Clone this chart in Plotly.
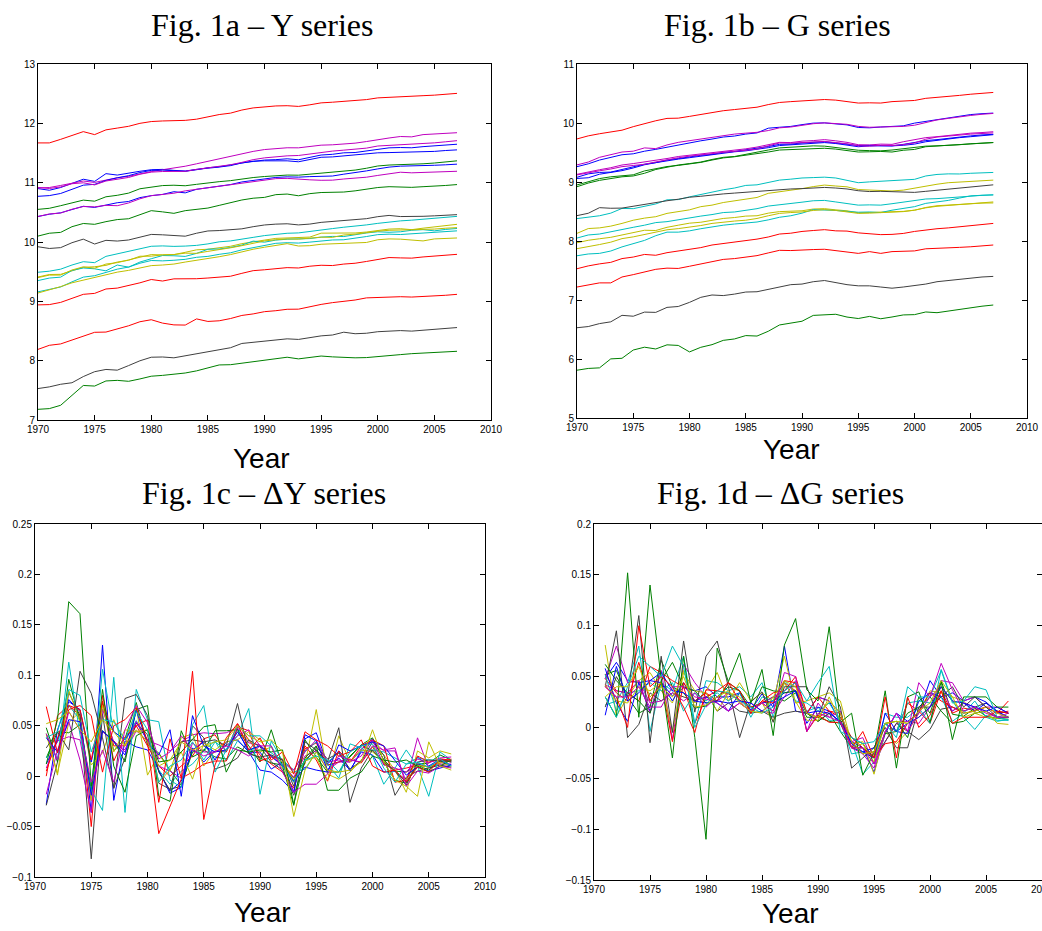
import numpy as np
import plotly.graph_objects as go

years = list(range(1970, 2008))

# MATLAB default colour order: b g r c m y k
matlab_colors = ['#0000FF', '#008000', '#FF0000', '#00BFBF', '#BF00BF', '#BFBF00', '#404040']

# ---- Fig 1a: Y series (log levels), 1970-2007 ----
y_b1 = [10.90, 10.872, 10.918, 10.994, 11.058, 11.022, 11.152, 11.128, 11.163, 11.192,
        11.218, 11.224, 11.207, 11.196, 11.224, 11.238, 11.263, 11.287, 11.334, 11.357,
        11.381, 11.388, 11.402, 11.386, 11.423, 11.466, 11.478, 11.503, 11.508, 11.534,
        11.571, 11.587, 11.592, 11.588, 11.607, 11.617, 11.634, 11.648]
y_g1 = [10.55, 10.568, 10.612, 10.655, 10.706, 10.688, 10.762, 10.787, 10.824, 10.897,
        10.928, 10.951, 10.957, 10.948, 10.972, 10.998, 11.017, 11.034, 11.063, 11.086,
        11.104, 11.117, 11.128, 11.126, 11.142, 11.168, 11.179, 11.193, 11.212, 11.243,
        11.281, 11.297, 11.302, 11.306, 11.318, 11.331, 11.352, 11.368]
y_r1 = [11.67, 11.67, 11.73, 11.80, 11.86, 11.81, 11.89, 11.92, 11.95, 12.00,
        12.03, 12.04, 12.04, 12.05, 12.07, 12.107, 12.148, 12.172, 12.224, 12.260,
        12.281, 12.293, 12.297, 12.285, 12.312, 12.345, 12.356, 12.370, 12.387, 12.400,
        12.429, 12.441, 12.447, 12.455, 12.466, 12.475, 12.488, 12.505]
y_c1 = [9.49, 9.508, 9.542, 9.612, 9.668, 9.652, 9.758, 9.802, 9.838, 9.893,
        9.928, 9.934, 9.926, 9.931, 9.943, 9.968, 10.003, 10.018, 10.053, 10.078,
        10.108, 10.131, 10.147, 10.153, 10.178, 10.212, 10.226, 10.249, 10.263, 10.288,
        10.314, 10.338, 10.356, 10.368, 10.386, 10.402, 10.418, 10.432]
y_m1 = [10.91, 10.918, 10.953, 10.992, 11.028, 11.004, 11.048, 11.083, 11.107, 11.152,
        11.187, 11.218, 11.243, 11.277, 11.318, 11.361, 11.403, 11.446, 11.494, 11.527,
        11.558, 11.577, 11.588, 11.587, 11.607, 11.632, 11.638, 11.652, 11.666, 11.693,
        11.728, 11.753, 11.778, 11.772, 11.810, 11.818, 11.830, 11.842]
y_y1 = [9.41, 9.452, 9.455, 9.508, 9.572, 9.583, 9.606, 9.662, 9.692, 9.760,
        9.761, 9.783, 9.788, 9.826, 9.868, 9.878, 9.903, 9.928, 9.972, 10.008,
        10.032, 10.061, 10.068, 10.071, 10.083, 10.149, 10.151, 10.148, 10.152, 10.168,
        10.197, 10.218, 10.224, 10.208, 10.233, 10.251, 10.276, 10.298]
y_k1 = [9.92, 9.891, 9.905, 9.988, 10.048, 9.966, 10.028, 10.016, 10.034, 10.087,
        10.128, 10.121, 10.108, 10.098, 10.148, 10.186, 10.193, 10.204, 10.222, 10.258,
        10.287, 10.301, 10.307, 10.288, 10.302, 10.331, 10.348, 10.371, 10.378, 10.393,
        10.427, 10.448, 10.429, 10.428, 10.433, 10.441, 10.452, 10.461]
y_b2 = [10.77, 10.782, 10.818, 10.892, 10.958, 10.972, 11.038, 11.082, 11.118, 11.171,
        11.207, 11.212, 11.197, 11.192, 11.218, 11.252, 11.268, 11.302, 11.338, 11.362,
        11.368, 11.372, 11.368, 11.352, 11.393, 11.428, 11.434, 11.452, 11.458, 11.482,
        11.503, 11.507, 11.512, 11.506, 11.518, 11.527, 11.542, 11.553]
y_g2 = [10.10, 10.148, 10.162, 10.258, 10.312, 10.298, 10.343, 10.378, 10.392, 10.458,
        10.528, 10.508, 10.483, 10.528, 10.547, 10.572, 10.617, 10.662, 10.708, 10.738,
        10.752, 10.798, 10.808, 10.779, 10.815, 10.834, 10.838, 10.842, 10.862, 10.893,
        10.918, 10.932, 10.928, 10.921, 10.932, 10.938, 10.953, 10.968]
y_r2 = [8.94, 8.945, 8.982, 9.052, 9.118, 9.134, 9.208, 9.223, 9.262, 9.312,
        9.368, 9.342, 9.379, 9.377, 9.381, 9.393, 9.408, 9.423, 9.472, 9.517,
        9.532, 9.551, 9.568, 9.562, 9.592, 9.608, 9.603, 9.628, 9.642, 9.672,
        9.708, 9.738, 9.732, 9.728, 9.748, 9.762, 9.778, 9.792]
y_c2 = [9.35, 9.392, 9.408, 9.521, 9.562, 9.548, 9.514, 9.612, 9.576, 9.662,
        9.718, 9.772, 9.768, 9.757, 9.808, 9.878, 9.882, 9.908, 9.948, 10.015,
        9.997, 10.032, 10.047, 10.051, 10.058, 10.082, 10.094, 10.092, 10.124, 10.152,
        10.172, 10.164, 10.172, 10.198, 10.208, 10.188, 10.212, 10.228]
y_m2 = [10.92, 10.902, 10.928, 10.982, 10.998, 10.962, 11.028, 11.062, 11.088, 11.142,
        11.178, 11.188, 11.193, 11.191, 11.224, 11.248, 11.272, 11.302, 11.342, 11.388,
        11.418, 11.438, 11.452, 11.458, 11.482, 11.518, 11.532, 11.548, 11.562, 11.582,
        11.618, 11.629, 11.637, 11.641, 11.658, 11.671, 11.689, 11.708]
y_y2 = [9.40, 9.442, 9.443, 9.528, 9.582, 9.558, 9.628, 9.652, 9.698, 9.742,
        9.788, 9.782, 9.788, 9.812, 9.809, 9.842, 9.868, 9.902, 9.938, 9.982,
        10.018, 10.038, 10.052, 10.048, 10.063, 10.082, 10.078, 10.118, 10.132, 10.158,
        10.182, 10.197, 10.202, 10.198, 10.209, 10.218, 10.232, 10.242]
y_k2 = [7.53, 7.558, 7.602, 7.628, 7.732, 7.814, 7.852, 7.84, 7.917, 7.998,
        8.058, 8.062, 8.048, 8.082, 8.118, 8.152, 8.188, 8.218, 8.29, 8.312,
        8.331, 8.352, 8.368, 8.358, 8.392, 8.418, 8.432, 8.48, 8.454, 8.462,
        8.488, 8.502, 8.507, 8.498, 8.512, 8.528, 8.543, 8.558]
y_b3 = [10.43, 10.468, 10.492, 10.548, 10.602, 10.583, 10.628, 10.662, 10.683, 10.748,
        10.781, 10.802, 10.848, 10.828, 10.888, 10.918, 10.942, 10.968, 11.012, 11.038,
        11.068, 11.088, 11.098, 11.093, 11.102, 11.108, 11.112, 11.143, 11.168, 11.198,
        11.232, 11.262, 11.278, 11.279, 11.288, 11.293, 11.301, 11.312]
y_g3 = [7.18, 7.192, 7.248, 7.421, 7.582, 7.572, 7.658, 7.668, 7.652, 7.692,
        7.738, 7.752, 7.768, 7.792, 7.828, 7.877, 7.928, 7.932, 7.958, 7.982,
        8.008, 8.032, 8.058, 8.03, 8.048, 8.078, 8.064, 8.05, 8.048, 8.052,
        8.072, 8.088, 8.102, 8.118, 8.128, 8.132, 8.142, 8.158]
y_r3 = [8.19, 8.259, 8.282, 8.348, 8.418, 8.478, 8.482, 8.532, 8.588, 8.656,
        8.69, 8.633, 8.603, 8.60, 8.704, 8.661, 8.672, 8.71, 8.762, 8.788,
        8.826, 8.842, 8.866, 8.868, 8.912, 8.948, 8.978, 8.998, 9.022, 9.058,
        9.068, 9.072, 9.078, 9.072, 9.081, 9.085, 9.102, 9.118]
y_c3 = [9.16, 9.198, 9.242, 9.328, 9.408, 9.432, 9.488, 9.542, 9.578, 9.642,
        9.688, 9.682, 9.692, 9.708, 9.742, 9.758, 9.792, 9.818, 9.868, 9.908,
        9.948, 9.978, 9.988, 9.982, 9.998, 10.018, 10.034, 10.038, 10.062, 10.092,
        10.124, 10.132, 10.126, 10.138, 10.152, 10.161, 10.178, 10.188]
y_m3 = [10.43, 10.472, 10.488, 10.552, 10.598, 10.592, 10.618, 10.612, 10.658, 10.728,
        10.781, 10.798, 10.822, 10.862, 10.888, 10.908, 10.932, 10.962, 10.988, 11.008,
        11.038, 11.068, 11.072, 11.056, 11.048, 11.04, 11.042, 11.062, 11.078, 11.092,
        11.122, 11.148, 11.176, 11.166, 11.171, 11.174, 11.184, 11.192]
y_y3 = [9.14, 9.192, 9.248, 9.312, 9.358, 9.392, 9.448, 9.492, 9.522, 9.568,
        9.602, 9.612, 9.628, 9.662, 9.688, 9.718, 9.752, 9.788, 9.838, 9.878,
        9.912, 9.948, 9.972, 9.932, 9.938, 9.962, 9.968, 9.972, 9.978, 9.992,
        10.038, 10.052, 10.048, 10.038, 10.018, 10.052, 10.062, 10.068]

# ---- Fig 1b: G series, 1970-2007 ----
g_b1 = [9.26, 9.308, 9.372, 9.418, 9.462, 9.478, 9.522, 9.553, 9.592, 9.628,
        9.668, 9.698, 9.728, 9.762, 9.779, 9.812, 9.832, 9.912, 9.928, 9.942,
        9.972, 9.998, 10.002, 9.988, 9.968, 9.924, 9.918, 9.932, 9.938, 9.952,
        9.998, 10.028, 10.062, 10.088, 10.118, 10.143, 10.158, 10.168]
g_g1 = [8.95, 9.002, 9.058, 9.088, 9.102, 9.122, 9.188, 9.228, 9.262, 9.281,
        9.302, 9.332, 9.372, 9.408, 9.428, 9.452, 9.482, 9.508, 9.542, 9.552,
        9.562, 9.568, 9.572, 9.558, 9.532, 9.508, 9.512, 9.518, 9.508, 9.538,
        9.552, 9.598, 9.611, 9.622, 9.641, 9.652, 9.661, 9.669]
g_r1 = [9.73, 9.782, 9.818, 9.852, 9.878, 9.938, 9.992, 10.038, 10.078, 10.082,
        10.112, 10.148, 10.181, 10.208, 10.228, 10.252, 10.268, 10.312, 10.348, 10.362,
        10.372, 10.388, 10.398, 10.388, 10.368, 10.338, 10.342, 10.338, 10.362, 10.378,
        10.382, 10.418, 10.432, 10.451, 10.468, 10.488, 10.502, 10.518]
g_c1 = [8.38, 8.402, 8.428, 8.472, 8.552, 8.548, 8.592, 8.628, 8.698, 8.702,
        8.748, 8.792, 8.828, 8.868, 8.898, 8.942, 8.952, 8.998, 9.032, 9.048,
        9.068, 9.075, 9.082, 9.068, 9.022, 8.988, 9.002, 9.012, 9.022, 9.041,
        9.045, 9.102, 9.128, 9.138, 9.136, 9.148, 9.155, 9.162]
g_m1 = [9.29, 9.338, 9.418, 9.462, 9.508, 9.522, 9.578, 9.566, 9.628, 9.672,
        9.702, 9.728, 9.762, 9.788, 9.812, 9.828, 9.842, 9.872, 9.918, 9.932,
        9.962, 9.988, 10.002, 9.988, 9.978, 9.942, 9.928, 9.932, 9.938, 9.942,
        9.962, 10.008, 10.052, 10.078, 10.108, 10.128, 10.148, 10.162]
g_y1 = [8.13, 8.211, 8.222, 8.252, 8.298, 8.352, 8.388, 8.412, 8.468, 8.492,
        8.528, 8.582, 8.608, 8.652, 8.678, 8.712, 8.738, 8.808, 8.832, 8.858,
        8.888, 8.922, 8.948, 8.932, 8.918, 8.872, 8.868, 8.852, 8.848, 8.862,
        8.898, 8.932, 8.962, 8.988, 9.002, 9.012, 9.021, 9.032]
g_k1 = [8.43, 8.47, 8.565, 8.555, 8.558, 8.592, 8.618, 8.652, 8.682, 8.708,
        8.742, 8.758, 8.782, 8.798, 8.812, 8.828, 8.838, 8.852, 8.868, 8.882,
        8.888, 8.902, 8.908, 8.898, 8.882, 8.852, 8.838, 8.842, 8.838, 8.826,
        8.824, 8.842, 8.862, 8.878, 8.898, 8.922, 8.938, 8.952]
g_b2 = [9.08, 9.138, 9.162, 9.168, 9.212, 9.258, 9.302, 9.328, 9.372, 9.398,
        9.428, 9.452, 9.468, 9.502, 9.518, 9.542, 9.568, 9.602, 9.638, 9.642,
        9.662, 9.678, 9.682, 9.662, 9.638, 9.618, 9.622, 9.618, 9.612, 9.638,
        9.672, 9.702, 9.718, 9.742, 9.758, 9.782, 9.798, 9.808]
g_g2 = [8.92, 8.982, 9.028, 9.062, 9.088, 9.102, 9.148, 9.212, 9.252, 9.288,
        9.312, 9.338, 9.382, 9.418, 9.432, 9.472, 9.508, 9.542, 9.578, 9.592,
        9.598, 9.612, 9.608, 9.588, 9.568, 9.538, 9.532, 9.528, 9.542, 9.562,
        9.592, 9.608, 9.612, 9.618, 9.632, 9.648, 9.658, 9.668]
g_r2 = [7.53, 7.578, 7.612, 7.638, 7.702, 7.728, 7.772, 7.758, 7.802, 7.828,
        7.862, 7.888, 7.932, 7.958, 7.972, 7.998, 8.032, 8.068, 8.118, 8.132,
        8.162, 8.178, 8.192, 8.172, 8.168, 8.138, 8.122, 8.108, 8.112, 8.128,
        8.162, 8.188, 8.208, 8.222, 8.238, 8.258, 8.272, 8.298]
g_c2 = [8.05, 8.102, 8.118, 8.152, 8.188, 8.232, 8.268, 8.312, 8.328, 8.362,
        8.388, 8.422, 8.448, 8.482, 8.492, 8.522, 8.548, 8.592, 8.618, 8.642,
        8.658, 8.682, 8.688, 8.662, 8.638, 8.608, 8.612, 8.608, 8.632, 8.658,
        8.682, 8.712, 8.718, 8.732, 8.758, 8.768, 8.774, 8.782]
g_m2 = [9.13, 9.172, 9.208, 9.242, 9.288, 9.312, 9.338, 9.372, 9.398, 9.432,
        9.452, 9.482, 9.498, 9.522, 9.538, 9.562, 9.592, 9.628, 9.672, 9.668,
        9.692, 9.702, 9.718, 9.698, 9.672, 9.632, 9.628, 9.642, 9.638, 9.682,
        9.712, 9.752, 9.768, 9.792, 9.812, 9.828, 9.838, 9.852]
g_y2 = [7.97, 8.012, 8.038, 8.062, 8.102, 8.138, 8.182, 8.178, 8.232, 8.268,
        8.302, 8.318, 8.352, 8.382, 8.398, 8.422, 8.428, 8.472, 8.498, 8.505,
        8.512, 8.542, 8.548, 8.528, 8.512, 8.478, 8.482, 8.488, 8.492, 8.502,
        8.522, 8.562, 8.588, 8.602, 8.618, 8.638, 8.652, 8.662]
g_k2 = [6.53, 6.55, 6.60, 6.63, 6.74, 6.725, 6.795, 6.79, 6.875, 6.89,
        6.96, 7.045, 7.085, 7.075, 7.10, 7.135, 7.14, 7.18, 7.22, 7.26,
        7.27, 7.31, 7.33, 7.29, 7.26, 7.24, 7.24, 7.22, 7.20, 7.22,
        7.24, 7.27, 7.31, 7.33, 7.36, 7.38, 7.39, 7.40]
g_b3 = [9.06, 9.072, 9.132, 9.158, 9.192, 9.238, 9.292, 9.328, 9.362, 9.388,
        9.412, 9.438, 9.462, 9.488, 9.512, 9.528, 9.552, 9.582, 9.618, 9.632,
        9.648, 9.662, 9.668, 9.652, 9.628, 9.598, 9.612, 9.608, 9.612, 9.622,
        9.642, 9.682, 9.708, 9.732, 9.752, 9.768, 9.788, 9.802]
g_g3 = [5.81, 5.84, 5.85, 6.002, 6.012, 6.152, 6.20, 6.17, 6.24, 6.23,
        6.12, 6.198, 6.243, 6.316, 6.34, 6.397, 6.389, 6.47, 6.577, 6.614,
        6.64, 6.739, 6.744, 6.758, 6.711, 6.686, 6.722, 6.682, 6.712, 6.747,
        6.752, 6.797, 6.785, 6.815, 6.845, 6.875, 6.895, 6.915]
g_r3 = [7.22, 7.26, 7.29, 7.29, 7.39, 7.43, 7.48, 7.52, 7.54, 7.535,
        7.572, 7.608, 7.652, 7.688, 7.702, 7.728, 7.752, 7.798, 7.842, 7.838,
        7.85, 7.855, 7.86, 7.84, 7.82, 7.79, 7.82, 7.79, 7.82, 7.82,
        7.832, 7.868, 7.872, 7.882, 7.892, 7.902, 7.918, 7.932]
g_c3 = [7.75, 7.78, 7.79, 7.83, 7.90, 7.96, 8.01, 8.09, 8.15, 8.15,
        8.172, 8.208, 8.242, 8.268, 8.288, 8.302, 8.322, 8.358, 8.402, 8.428,
        8.472, 8.532, 8.528, 8.518, 8.502, 8.488, 8.492, 8.482, 8.522, 8.552,
        8.582, 8.638, 8.662, 8.688, 8.728, 8.765, 8.775, 8.782]
g_m3 = [9.12, 9.16, 9.19, 9.22, 9.26, 9.28, 9.30, 9.34, 9.38, 9.41,
        9.438, 9.462, 9.478, 9.502, 9.518, 9.542, 9.558, 9.612, 9.662, 9.658,
        9.672, 9.682, 9.688, 9.668, 9.648, 9.612, 9.608, 9.622, 9.618, 9.632,
        9.662, 9.725, 9.762, 9.778, 9.798, 9.812, 9.822, 9.832]
g_y3 = [7.87, 7.90, 7.94, 7.98, 8.04, 8.07, 8.11, 8.14, 8.19, 8.21,
        8.232, 8.262, 8.298, 8.322, 8.338, 8.352, 8.382, 8.428, 8.468, 8.482,
        8.492, 8.518, 8.532, 8.518, 8.492, 8.468, 8.472, 8.478, 8.482, 8.498,
        8.522, 8.568, 8.598, 8.608, 8.622, 8.638, 8.642, 8.645]

# plotting order follows the MATLAB colour cycle
y_series = [y_b1, y_g1, y_r1, y_c1, y_m1, y_y1, y_k1,
            y_b2, y_g2, y_r2, y_c2, y_m2, y_y2, y_k2,
            y_b3, y_g3, y_r3, y_c3, y_m3, y_y3]
g_series = [g_b1, g_g1, g_r1, g_c1, g_m1, g_y1, g_k1,
            g_b2, g_g2, g_r2, g_c2, g_m2, g_y2, g_k2,
            g_b3, g_g3, g_r3, g_c3, g_m3, g_y3]

titles = ['Fig. 1a \u2013 Y series', 'Fig. 1b \u2013 G series',
          'Fig. 1c \u2013 \u0394Y series', 'Fig. 1d \u2013 \u0394G series']

W, H = 1042, 931


def px(x, y):
    return x / W, 1 - y / H


fig = go.Figure()

for i, (ys, gs) in enumerate(zip(y_series, g_series)):
    col = matlab_colors[i % 7]
    ln = dict(color=col, width=1)
    fig.add_trace(go.Scatter(x=years, y=ys, mode='lines', line=ln, xaxis='x', yaxis='y'))
    fig.add_trace(go.Scatter(x=years, y=gs, mode='lines', line=ln, xaxis='x2', yaxis='y2'))
    # growth rates = first differences of the log levels
    fig.add_trace(go.Scatter(x=years[1:], y=np.diff(ys), mode='lines', line=ln, xaxis='x3', yaxis='y3'))
    fig.add_trace(go.Scatter(x=years[1:], y=np.diff(gs), mode='lines', line=ln, xaxis='x4', yaxis='y4'))

axis_style = dict(showline=True, linecolor='black', linewidth=1, mirror='allticks',
                  ticks='inside', ticklen=5, tickcolor='black', showgrid=False, zeroline=False,
                  automargin=False, ticklabeloverflow='allow',
                  tickfont=dict(family='Liberation Sans, Arial', size=10, color='black'),
                  fixedrange=True)
xstyle = dict(axis_style, range=[1970, 2010], tick0=1970, dtick=5)

# plot boxes in pixels: (left, top, right, bottom); the last one runs off the page edge
boxes = [(38, 64, 491, 420), (577, 64, 1027, 418), (35, 524, 485, 877), (594, 524, 1042, 880)]
yranges = [[7, 13], [5, 11], [-0.1, 0.25], [-0.15, 0.2]]
ydticks = [1, 1, 0.05, 0.05]

layout = dict(width=W, height=H, margin=dict(l=0, r=0, t=0, b=0, autoexpand=False),
              paper_bgcolor='white', plot_bgcolor='white', showlegend=False)
for k, ((l, t, r, b), yr, dt) in enumerate(zip(boxes, yranges, ydticks)):
    sfx = '' if k == 0 else str(k + 1)
    x0, y1 = px(l, t)
    x1, y0 = px(r, b)
    layout['xaxis' + sfx] = dict(xstyle, domain=[x0, x1], anchor='y' + sfx)
    layout['yaxis' + sfx] = dict(axis_style, domain=[y0, y1], range=yr, dtick=dt, anchor='x' + sfx)
fig.update_layout(**layout)

title_pos = [(262, 25), (777, 25), (264, 493), (780, 493)]
year_pos = [(261, 458), (791, 449), (262, 912), (790, 913)]
for txt, (tx, ty), (yx, yy) in zip(titles, title_pos, year_pos):
    ax_, ay_ = px(tx, ty)
    fig.add_annotation(text=txt, x=ax_, y=ay_, xref='paper', yref='paper', showarrow=False,
                       xanchor='center', yanchor='middle',
                       font=dict(family='Liberation Serif, Times New Roman', size=32, color='black'))
    bx, by = px(yx, yy)
    fig.add_annotation(text='Year', x=bx, y=by, xref='paper', yref='paper', showarrow=False,
                       xanchor='center', yanchor='middle',
                       font=dict(family='Liberation Sans, Arial', size=28, color='black'))

# drop the default page margin so the figure sits at the window's top-left corner
fig.write_html("out.html", config={'displayModeBar': False},
               post_script="document.body.style.margin='0';document.body.style.overflow='hidden';")
